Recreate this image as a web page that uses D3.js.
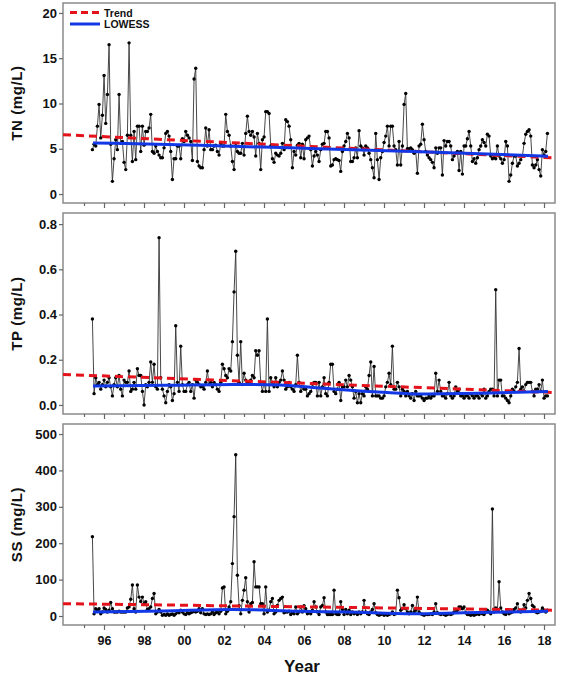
<!DOCTYPE html>
<html>
<head>
<meta charset="utf-8">
<script src="https://cdn.jsdelivr.net/npm/d3@7"></script>
<style>
	body { margin: 0; background: #fff; }
	svg text { font-family: "Liberation Sans", Arial, sans-serif; font-weight: bold; fill: #111; }
</style>
</head>
<body>
<div id="chart"></div>
<script>

// monthly samples, first one in mid 1995
const firstYear = 1995.42;

const tnValues = [
	4.9, 5.5, 5.3, 7.5, 9.9, 6.2, 8.7, 13.1, 7.8, 11.0,
	16.5, 5.5, 1.4, 3.9, 6.0, 4.9, 11.0, 5.6, 5.8, 3.5,
	2.7, 6.5, 16.7, 6.5, 3.6, 6.9, 3.8, 7.5, 7.5, 4.7,
	7.5, 5.4, 6.9, 6.9, 7.3, 8.8, 4.7, 4.5, 5.3, 4.7,
	4.3, 4.0, 4.0, 5.1, 6.7, 6.9, 6.4, 4.7, 1.6, 3.9,
	3.9, 5.3, 5.3, 3.9, 6.1, 5.8, 6.9, 6.5, 6.2, 5.8,
	3.7, 12.7, 13.9, 3.6, 3.1, 2.9, 2.9, 4.9, 7.3, 5.3,
	7.1, 4.9, 4.9, 5.3, 5.4, 4.7, 4.3, 5.6, 5.3, 5.3,
	8.8, 6.9, 6.5, 5.3, 3.6, 2.7, 5.6, 4.7, 4.5, 4.5,
	5.6, 4.3, 6.7, 8.6, 6.9, 6.5, 6.9, 6.3, 4.2, 6.7,
	5.6, 2.7, 6.0, 6.3, 9.1, 9.1, 8.9, 5.3, 3.9, 3.5,
	4.5, 4.3, 4.2, 4.5, 5.6, 4.9, 8.2, 8.0, 7.5, 6.0,
	2.9, 4.7, 4.3, 5.4,
	5.6, 4.0, 5.5, 3.9, 6.0, 6.2, 6.4, 4.9, 3.1, 4.2,
	4.7, 4.3, 3.6, 4.9, 5.5, 5.6, 6.9, 6.9, 6.2, 3.1,
	3.2, 3.8, 3.9, 3.8, 3.7, 2.5, 4.7, 5.3, 5.8, 6.7,
	6.2, 3.6, 3.6, 4.0, 5.1, 4.0, 7.0, 5.3, 5.1, 4.3,
	5.3, 5.1, 4.5, 3.8, 2.9, 1.8, 6.7, 3.8, 1.6, 4.0,
	4.7, 5.7, 6.4, 7.5, 5.3, 7.5, 7.5, 5.3, 4.9, 3.2,
	5.8, 3.2, 5.3, 9.9, 11.1, 5.0, 5.0, 5.1, 4.9, 4.5,
	4.7, 2.3, 5.3, 5.5, 7.7, 6.0, 4.7, 4.3, 4.0, 3.8,
	3.5, 2.9, 5.1, 4.5, 5.1, 5.1, 2.1, 5.9, 5.3, 5.8,
	5.8, 5.3, 3.8, 4.2, 4.5, 4.7, 2.6, 4.7, 2.2, 5.3,
	5.3, 6.1, 6.9, 5.3, 3.6, 3.9, 3.4, 4.0, 4.9, 5.3,
	6.0, 5.7, 5.3, 6.6, 6.4, 4.2, 3.9, 4.0, 3.9, 5.3,
	4.2, 3.9, 3.4, 3.8, 5.8, 5.3, 1.4, 2.1, 3.4, 4.2,
	4.2, 3.1, 3.4, 3.8, 4.2, 5.6, 6.6, 6.9, 7.1, 6.4,
	3.2, 2.9, 3.2, 3.8, 2.7, 2.0, 4.9, 4.3, 4.7, 6.7
];

const tpValues = [
	0.38, 0.05, 0.12, 0.09, 0.10, 0.07, 0.09, 0.11, 0.08, 0.10,
	0.12, 0.08, 0.04, 0.09, 0.12, 0.08, 0.13, 0.07, 0.04, 0.11,
	0.10, 0.10, 0.15, 0.06, 0.07, 0.10, 0.07, 0.16, 0.13, 0.13,
	0.06, 0.00, 0.09, 0.08, 0.10, 0.19, 0.10, 0.18, 0.08, 0.07,
	0.74, 0.12, 0.07, 0.04, 0.01, 0.06, 0.09, 0.08, 0.02, 0.05,
	0.35, 0.10, 0.06, 0.26, 0.09, 0.06, 0.06, 0.09, 0.10, 0.06,
	0.09, 0.03, 0.11, 0.10, 0.09, 0.08, 0.08, 0.07, 0.10, 0.15,
	0.09, 0.10, 0.08, 0.10, 0.09, 0.07, 0.06, 0.10, 0.18, 0.16,
	0.13, 0.12, 0.16, 0.15, 0.28, 0.50, 0.68, 0.22, 0.10, 0.28,
	0.09, 0.14, 0.11, 0.10, 0.10, 0.11, 0.13, 0.12, 0.24, 0.22,
	0.24, 0.10, 0.06, 0.10, 0.06, 0.38, 0.06, 0.12, 0.10, 0.08,
	0.12, 0.08, 0.10, 0.11, 0.15, 0.11, 0.07, 0.08, 0.10, 0.08,
	0.07, 0.06, 0.09, 0.22, 0.10,
	0.06, 0.08, 0.07, 0.07, 0.04, 0.05, 0.06, 0.08, 0.10, 0.10,
	0.04, 0.10, 0.04, 0.08, 0.12, 0.05, 0.04, 0.10, 0.18, 0.18,
	0.06, 0.05, 0.07, 0.10, 0.02, 0.08, 0.08, 0.11, 0.08, 0.13,
	0.11, 0.08, 0.03, 0.06, 0.01, 0.05, 0.01, 0.05, 0.04, 0.08,
	0.07, 0.13, 0.19, 0.04, 0.17, 0.04, 0.04, 0.04, 0.03, 0.03,
	0.04, 0.08, 0.10, 0.14, 0.09, 0.26, 0.07, 0.07, 0.10, 0.08,
	0.04, 0.07, 0.06, 0.04, 0.06, 0.04, 0.03, 0.05, 0.02, 0.06,
	0.04, 0.04, 0.04, 0.03, 0.02, 0.03, 0.03, 0.04, 0.03, 0.04,
	0.04, 0.14, 0.06, 0.11, 0.06, 0.04, 0.04, 0.03, 0.05, 0.10,
	0.04, 0.03, 0.04, 0.08, 0.06, 0.07, 0.04, 0.04, 0.03, 0.04,
	0.04, 0.03, 0.05, 0.04, 0.03, 0.04, 0.04, 0.03, 0.05, 0.04,
	0.07, 0.03, 0.04, 0.06, 0.07, 0.07, 0.04, 0.51, 0.04, 0.11,
	0.11, 0.04, 0.04, 0.03, 0.02, 0.01, 0.04, 0.07, 0.06, 0.08,
	0.10, 0.25, 0.07, 0.08, 0.06, 0.09, 0.10, 0.10, 0.10, 0.06,
	0.04, 0.07, 0.07, 0.09, 0.06, 0.11, 0.03, 0.04, 0.04
];

const ssValues = [
	218, 6, 20, 16, 20, 6, 11, 22, 18, 11,
	16, 37, 20, 11, 11, 11, 13, 11, 11, 11,
	11, 22, 25, 46, 85, 20, 11, 85, 52, 40,
	52, 34, 39, 18, 20, 25, 48, 62, 6, 11,
	18, 11, 2, 4, 2, 6, 2, 4, 6, 2,
	6, 11, 9, 16, 11, 6, 4, 9, 6, 9,
	11, 13, 11, 13, 20, 9, 20, 6, 4, 6,
	4, 6, 11, 4, 9, 11, 6, 13, 77, 80,
	6, 13, 25, 39, 144, 273, 443, 112, 28, 6,
	43, 71, 105, 39, 11, 34, 37, 149, 80, 80,
	80, 34, 34, 6, 80, 11, 16, 39, 48, 6,
	11, 29, 43, 48, 52, 9, 11, 11, 13, 4,
	9, 6, 25, 6,
	11, 25, 11, 28, 20, 6, 11, 6, 16, 39,
	25, 11, 4, 25, 29, 50, 11, 4, 4, 4,
	4, 71, 6, 4, 4, 39, 18, 4, 18, 6,
	16, 4, 11, 6, 9, 4, 11, 6, 11, 43,
	11, 6, 4, 11, 18, 34, 9, 4, 2, 4,
	6, 2, 4, 2, 4, 6, 11, 4, 6, 71,
	50, 16, 20, 31, 20, 11, 6, 11, 29, 11,
	16, 52, 11, 6, 4, 2, 4, 4, 4, 6,
	4, 11, 34, 9, 6, 4, 6, 4, 2, 4,
	6, 4, 6, 11, 11, 16, 25, 25, 20, 25,
	9, 4, 4, 2, 4, 2, 4, 6, 4, 9,
	6, 4, 11, 16, 11, 6, 294, 11, 22, 18,
	94, 22, 11, 6, 4, 11, 6, 9, 11, 18,
	22, 34, 16, 11, 16, 31, 22, 43, 62, 48,
	29, 25, 11, 9, 11, 13, 22, 16, 11, 16
];

// linear trend, value at the left and right end of the axis
const tnTrend = [6.55, 3.98];
const tpTrend = [0.135, 0.055];
const ssTrend = [34, 16];

// LOWESS curves read at a few years
const tnLowessYears = [1995.45, 2000.8, 2005.7, 2011.45, 2018.2];
const tnLowessValues = [5.65, 5.38, 5.08, 4.71, 4.18];
const tpLowessYears = [1995.45, 1999.0, 2002.45, 2004.8, 2006.45, 2008.8, 2010.15, 2011.45, 2014.8, 2018.2];
const tpLowessValues = [0.084, 0.087, 0.091, 0.088, 0.077, 0.062, 0.055, 0.049, 0.052, 0.059];
const ssLowessYears = [1995.45, 1999.0, 2002.45, 2005.8, 2008.15, 2011.45, 2013.95, 2018.2];
const ssLowessValues = [11, 14, 18, 13, 11, 6, 9, 13];

const yearTicks = d3.range(1995, 2019);
const tnTicks = [0, 5, 10, 15, 20];
const tpTicks = [0, 0.2, 0.4, 0.6, 0.8];
const ssTicks = [0, 100, 200, 300, 400, 500];

const trendColor = "#e3121b";
const lowessColor = "#1238e6";

let width = 566, height = 679;
let left = 63, right = 555;
let xDomain = [1993.95, 2018.55];

let svg = d3.select("#chart").append("svg")
	.attr("width", width)
	.attr("height", height);

let x = d3.scaleLinear()
	.domain(xDomain)
	.range([left, right]);

// panels, y domains padded so the ticks land where the picture has them
let panels = [
	{title: "TN (mg/L)", values: tnValues, trend: tnTrend, lx: tnLowessYears, lv: tnLowessValues,
		ticks: tnTicks, fmt: d3.format("d"), domain: [-0.99, 21.1], top: 3, bottom: 203},
	{title: "TP (mg/L)", values: tpValues, trend: tpTrend, lx: tpLowessYears, lv: tpLowessValues,
		ticks: tpTicks, fmt: d3.format(".1f"), domain: [-0.040, 0.849], top: 213, bottom: 414},
	{title: "SS (mg/L)", values: ssValues, trend: ssTrend, lx: ssLowessYears, lv: ssLowessValues,
		ticks: ssTicks, fmt: d3.format("d"), domain: [-24.7, 527.5], top: 424, bottom: 625}
];

panels.forEach((p, pi) => {
	let y = d3.scaleLinear()
		.domain(p.domain)
		.range([p.bottom, p.top]);

	let g = svg.append("g");

	// frame
	g.append("rect")
		.attr("x", left)
		.attr("y", p.top)
		.attr("width", right - left)
		.attr("height", p.bottom - p.top)
		.attr("fill", "#fff")
		.attr("stroke", "#8a8a8a")
		.attr("stroke-width", 1.5);

	// y axis
	let yAxis = g.append("g")
		.attr("transform", `translate(${left},0)`)
		.call(d3.axisLeft(y).tickValues(p.ticks).tickFormat(p.fmt).tickSize(4).tickPadding(2));
	yAxis.select(".domain").remove();
	yAxis.selectAll("line").attr("stroke", "#666").attr("stroke-width", 1.2);
	yAxis.selectAll("text")
		.attr("font-size", 13)
		.attr("font-family", null)
		.attr("fill", "#111");

	// x axis: long ticks on even years, short ones on odd years
	let xAxis = g.append("g")
		.attr("transform", `translate(0,${p.bottom})`)
		.call(d3.axisBottom(x).tickValues(yearTicks).tickSize(5).tickPadding(6)
			.tickFormat(d => (pi === 2 && d % 2 === 0) ? String(d).slice(2) : ""));
	xAxis.select(".domain").remove();
	xAxis.selectAll("line")
		.attr("stroke", "#666")
		.attr("stroke-width", 1.2)
		.attr("y2", d => d % 2 === 0 ? 5 : 3);
	xAxis.selectAll("text")
		.attr("font-size", 12.5)
		.attr("font-family", null)
		.attr("fill", "#111");

	// y title
	g.append("text")
		.attr("transform", `translate(22,${(p.top + p.bottom) / 2}) rotate(-90)`)
		.attr("text-anchor", "middle")
		.attr("font-size", 15)
		.attr("letter-spacing", 0.6)
		.text(p.title);

	// observed series
	let line = d3.line()
		.x((d, i) => x(firstYear + i / 12))
		.y(d => y(d));

	g.append("path")
		.datum(p.values)
		.attr("d", line)
		.attr("fill", "none")
		.attr("stroke", "#333")
		.attr("stroke-width", 0.9);

	g.selectAll(".pt")
		.data(p.values)
		.enter()
		.append("circle")
		.attr("class", "pt")
		.attr("cx", (d, i) => x(firstYear + i / 12))
		.attr("cy", d => y(d))
		.attr("r", 1.7)
		.attr("fill", "#000");

	// trend line
	g.append("line")
		.attr("x1", x(xDomain[0]))
		.attr("x2", x(xDomain[1]))
		.attr("y1", y(p.trend[0]))
		.attr("y2", y(p.trend[1]))
		.attr("stroke", trendColor)
		.attr("stroke-width", 3)
		.attr("stroke-dasharray", "8,5");

	// LOWESS
	let lowess = d3.line()
		.x(d => x(d[0]))
		.y(d => y(d[1]))
		.curve(d3.curveMonotoneX);

	g.append("path")
		.datum(p.lx.map((d, i) => [d, p.lv[i]]))
		.attr("d", lowess)
		.attr("fill", "none")
		.attr("stroke", lowessColor)
		.attr("stroke-width", 3);
});

// legend in top panel
let legend = svg.append("g");
let legendItems = [
	{label: "Trend", color: trendColor, dash: "7,4", y: 12.5},
	{label: "LOWESS", color: lowessColor, dash: null, y: 24}
];
legendItems.forEach(d => {
	legend.append("line")
		.attr("x1", 70)
		.attr("x2", 100)
		.attr("y1", d.y)
		.attr("y2", d.y)
		.attr("stroke", d.color)
		.attr("stroke-width", 3)
		.attr("stroke-dasharray", d.dash);
	legend.append("text")
		.attr("x", 104)
		.attr("y", d.y + 4)
		.attr("font-size", 10.5)
		.text(d.label);
});

// x title
svg.append("text")
	.attr("x", 302)
	.attr("y", 672)
	.attr("text-anchor", "middle")
	.attr("font-size", 17)
	.text("Year");

</script>
</body>
</html>
